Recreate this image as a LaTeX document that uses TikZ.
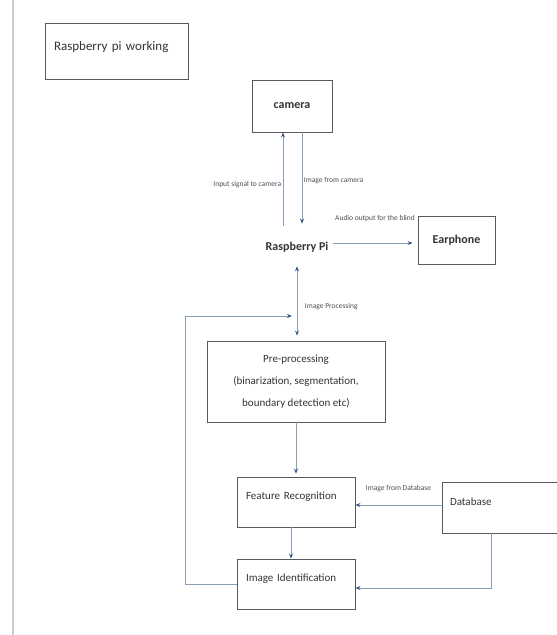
\documentclass[tikz,border=0pt]{standalone}
\usepackage{fontspec}
\setmainfont{Carlito}
\usetikzlibrary{arrows.meta,positioning,calc}

\definecolor{linkblue}{RGB}{135,158,185}
\definecolor{tipblue}{RGB}{55,85,135}
\definecolor{boxgray}{RGB}{90,90,90}

\begin{document}
\begin{tikzpicture}[
    x=1pt, y=-1pt,
    font=\fontsize{11}{13}\selectfont,
    >={Stealth[length=5pt,width=4pt,color=tipblue]},
    box/.style={draw=boxgray, line width=0.9pt, rectangle, inner sep=4pt, text=black!80},
    link/.style={draw=linkblue, line width=0.8pt, ->},
    linklabel/.style={font=\fontsize{7.5}{9}\selectfont, text=black!70, inner sep=1.5pt},
    bigtext/.style={font=\fontsize{12}{14}\selectfont\bfseries, text=black!80}
]
    \useasboundingbox (0,0) rectangle (557,635);

    % Page edge
    \draw[gray!40, line width=1.5pt] (13,0) -- (13,635);

    % Boxes
    \node[box, minimum width=143pt, minimum height=56pt, text width=125pt, align=left,
          font=\fontsize{13}{15}\selectfont, text depth=10pt] (title) at (116.5,51) {Raspberry pi working};
    \node[box, bigtext, minimum width=80pt, minimum height=52pt] (camera) at (292,106) {camera};
    \node[bigtext, inner sep=2pt] (pi) at (297,247) {Raspberry Pi};
    \node[box, bigtext, minimum width=77pt, minimum height=48pt] (earphone) at (456.5,240) {Earphone};
    \node[box, minimum width=178pt, minimum height=81pt, align=center,
          font=\fontsize{11}{22}\selectfont] (pre) at (296,381.5)
          {Pre-processing\\(binarization, segmentation,\\boundary detection etc)};
    \node[box, minimum width=118pt, minimum height=50pt, text width=100pt, align=left,
          text depth=12pt] (feat) at (296,502) {Feature Recognition};
    \node[box, minimum width=118pt, minimum height=50pt, text width=100pt, align=left,
          text depth=12pt] (imgid) at (296,584) {Image Identification};
    \node[box, minimum width=120pt, minimum height=51pt, text width=104pt, align=left,
          text depth=12pt] (db) at (502,507.5) {Database};

    % Camera links
    \draw[link] ([xshift=-14pt,yshift=14pt]pi.north) -- ([xshift=-9pt]camera.south)
        node[linklabel, left, pos=0.44] {Input signal to camera};
    \draw[link] ([xshift=10pt]camera.south) -- ([xshift=5pt,yshift=16pt]pi.north)
        node[linklabel, right, pos=0.53] {Image from camera};

    % Audio out
    \draw[link, shorten >=5pt] ([xshift=2pt,yshift=4pt]pi.east) -- ([yshift=4pt]pi.east -| earphone.west)
        node[linklabel, above=19pt, midway] {Audio output for the blind};

    % Processing
    \draw[link, <->, shorten <=12pt, shorten >=5pt] (pi.south) -- (pi.south |- pre.north)
        node[linklabel, right, pos=0.61, xshift=6pt] {Image Processing};
    \coordinate (merge) at (292,316);
    \draw[link] (imgid.west) -- ++(-51,0) |- (merge);

    % Recognition chain
    \draw[link, shorten >=3pt] (pre.south) -- (feat.north);
    \draw[link] ([yshift=2.5pt]db.west) -- ([yshift=2.5pt]db.west -| feat.east)
        node[linklabel, above=11pt, midway] {Image from Database};
    \draw[link] ([xshift=-5pt]feat.south) -- ([xshift=-5pt]imgid.north);
    \draw[link] ([xshift=-11pt]db.south) |- ([yshift=-4pt]imgid.east);
\end{tikzpicture}
\end{document}
